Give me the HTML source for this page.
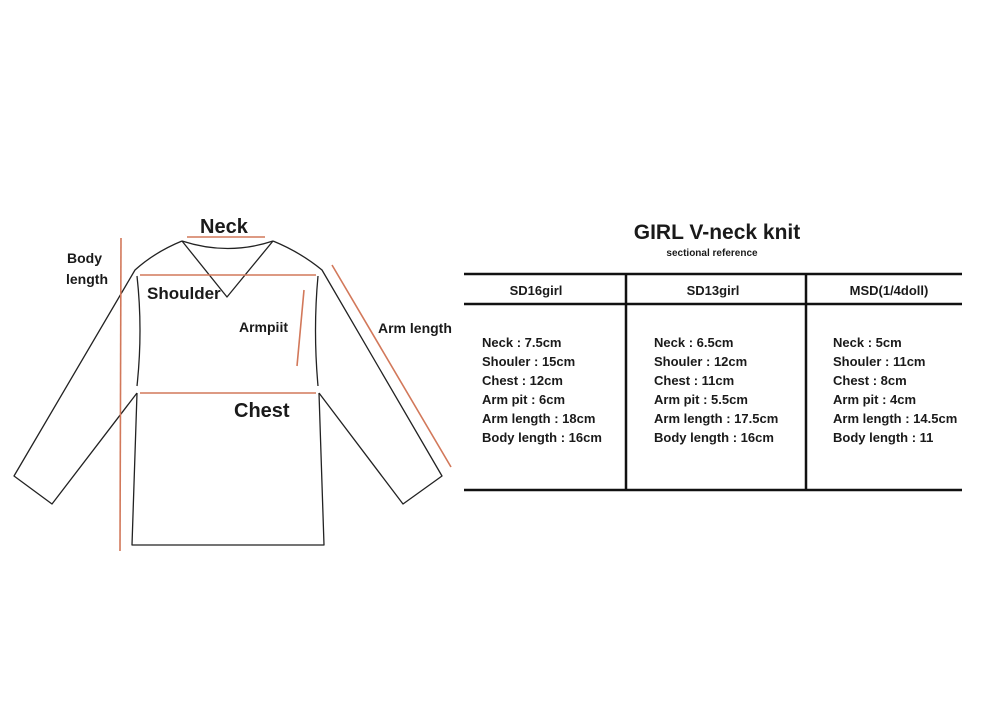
<!DOCTYPE html>
<html><head><meta charset="utf-8"><style>
html,body{margin:0;padding:0;background:#fff;}
svg{display:block;}
</style></head><body>
<svg width="1000" height="715" viewBox="0 0 1000 715" xmlns="http://www.w3.org/2000/svg">
<rect width="1000" height="715" fill="#fff"/>
<g fill="none" stroke="#222" stroke-width="1.3" stroke-linejoin="round">
  <!-- neck -->
  <path d="M182,241 Q228,256 273,241"/>
  <path d="M182,241 L227,297 L273,241"/>
  <!-- shoulders -->
  <path d="M182,241 Q155,252 135,270 L14,476 L52,504 L137,393"/>
  <path d="M273,241 Q300,252 322,270 L442,476 L403,504 L319,393"/>
  <!-- body upper sides -->
  <path d="M137,276 Q143,330 137,386"/>
  <path d="M318,276 Q313,330 318,386"/>
  <!-- body lower -->
  <path d="M137,393 L132,545 L324,545 L319,393"/>
</g>
<g stroke="#d2785a" stroke-width="1.6" fill="none">
  <line x1="187" y1="237" x2="265" y2="237"/>
  <line x1="140" y1="275" x2="316" y2="275"/>
  <line x1="140" y1="393" x2="316" y2="393"/>
  <line x1="121" y1="238" x2="120" y2="551"/>
  <line x1="304" y1="290" x2="297" y2="366"/>
  <line x1="332" y1="265" x2="451" y2="467"/>
</g>
<g font-family="Liberation Sans, sans-serif" font-weight="bold" fill="#1a1a1a">
  <text x="200" y="233" font-size="20">Neck</text>
  <text x="67" y="263" font-size="14">Body</text>
  <text x="66" y="284" font-size="14">length</text>
  <text x="147" y="299" font-size="17">Shoulder</text>
  <text x="239" y="332" font-size="14">Armpiit</text>
  <text x="378" y="333" font-size="14">Arm length</text>
  <text x="234" y="417" font-size="20">Chest</text>
</g>
<g font-family="Liberation Sans, sans-serif" fill="#1a1a1a">
  <text x="717" y="239" font-size="21" font-weight="bold" text-anchor="middle">GIRL V-neck knit</text>
  <text x="712" y="256" font-size="10" font-weight="bold" text-anchor="middle">sectional reference</text>
</g>
<g stroke="#111" stroke-width="2.5">
  <line x1="464" y1="274" x2="962" y2="274"/>
  <line x1="464" y1="304" x2="962" y2="304"/>
  <line x1="464" y1="490" x2="962" y2="490"/>
  <line x1="626" y1="274" x2="626" y2="490"/>
  <line x1="806" y1="274" x2="806" y2="490"/>
</g>
<g font-family="Liberation Sans, sans-serif" font-weight="bold" fill="#1a1a1a" font-size="13">
  <text x="536" y="295" text-anchor="middle">SD16girl</text>
  <text x="713" y="295" text-anchor="middle">SD13girl</text>
  <text x="889" y="295" text-anchor="middle">MSD(1/4doll)</text>
  <text x="482" y="347">Neck : 7.5cm</text>
  <text x="482" y="366">Shouler : 15cm</text>
  <text x="482" y="385">Chest : 12cm</text>
  <text x="482" y="404">Arm pit : 6cm</text>
  <text x="482" y="423">Arm length : 18cm</text>
  <text x="482" y="442">Body length : 16cm</text>
  <text x="654" y="347">Neck : 6.5cm</text>
  <text x="654" y="366">Shouler : 12cm</text>
  <text x="654" y="385">Chest : 11cm</text>
  <text x="654" y="404">Arm pit : 5.5cm</text>
  <text x="654" y="423">Arm length : 17.5cm</text>
  <text x="654" y="442">Body length : 16cm</text>
  <text x="833" y="347">Neck : 5cm</text>
  <text x="833" y="366">Shouler : 11cm</text>
  <text x="833" y="385">Chest : 8cm</text>
  <text x="833" y="404">Arm pit : 4cm</text>
  <text x="833" y="423">Arm length : 14.5cm</text>
  <text x="833" y="442">Body length : 11</text>
</g>
</svg>
</body></html>
